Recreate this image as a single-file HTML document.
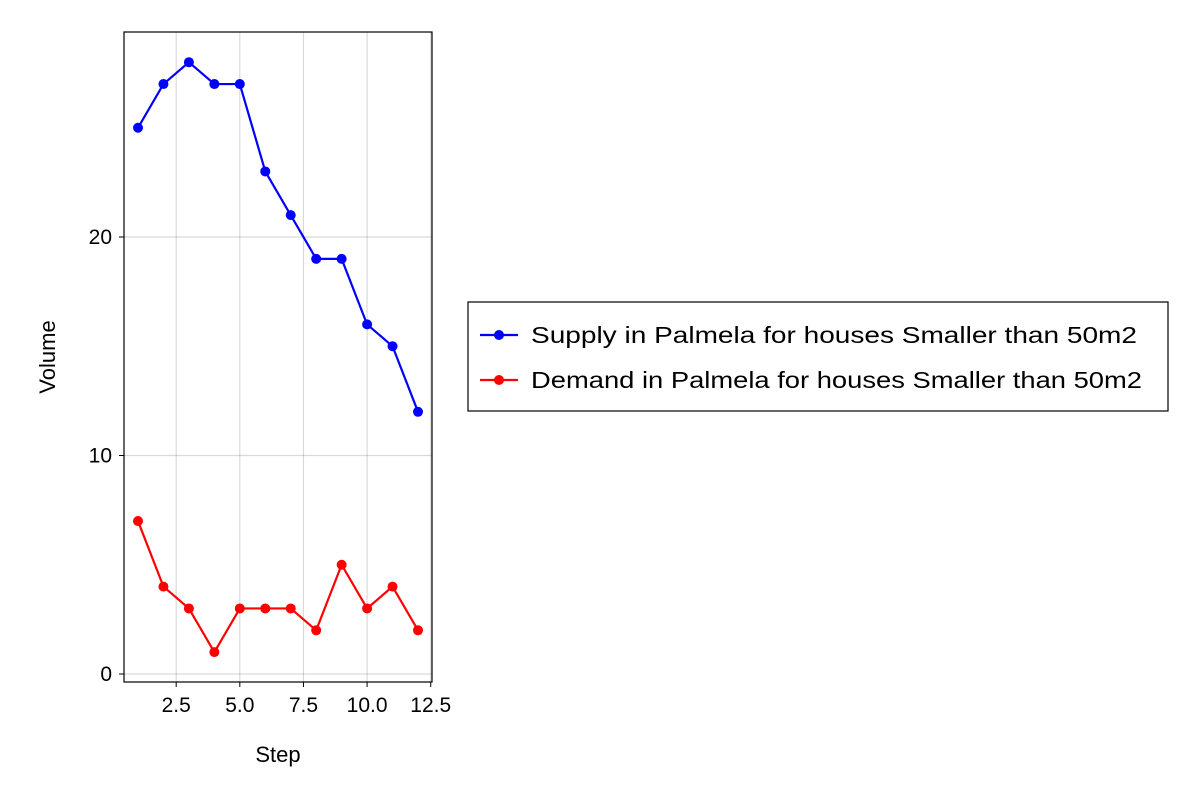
<!DOCTYPE html>
<html><head><meta charset="utf-8"><style>
body{margin:0;background:#fff;}
svg text{font-family:"Liberation Sans",sans-serif;fill:#000;}
</style></head><body>
<svg id="chart" width="1200" height="800" xmlns="http://www.w3.org/2000/svg"></svg>
<script>
const steps=[1,2,3,4,5,6,7,8,9,10,11,12];
const supply=[25,27,28,27,27,23,21,19,19,16,15,12];
const demand=[7,4,3,1,3,3,3,2,5,3,4,2];
const xTicks=[2.5,5.0,7.5,10.0,12.5];
const xTickLabels=["2.5","5.0","7.5","10.0","12.5"];
const yTicks=[0,10,20];
const yTickLabels=["0","10","20"];
const seriesNames=["Supply in Palmela for houses Smaller than 50m2","Demand in Palmela for houses Smaller than 50m2"];

const svg=document.getElementById('chart');
const NS='http://www.w3.org/2000/svg';
const L=124,R=432,T=32,B=682;
const xs=v=>138+(v-1)*(280/11);
const ys=v=>674-v*21.85;
function mk(tag,attrs,parent){const e=document.createElementNS(NS,tag);for(const k in attrs)e.setAttribute(k,attrs[k]);(parent||svg).appendChild(e);return e;}

const grid=mk('g',{});


xTicks.forEach((t,i)=>{
  const gl=mk('line',{x1:xs(t),x2:xs(t),y1:T,y2:B,stroke:'#000','stroke-opacity':0.15,'stroke-width':1.2},grid);
  
  
  const tk=mk('line',{x1:xs(t),x2:xs(t),y1:B,y2:B+5,stroke:'#000'});
  
  
  const tx=mk('text',{x:xs(t),y:B+30,'text-anchor':'middle','font-size':21});
  tx.textContent=xTickLabels[i];
  
  
});
yTicks.forEach((t,i)=>{
  const gl=mk('line',{x1:L,x2:R,y1:ys(t),y2:ys(t),stroke:'#000','stroke-opacity':0.15,'stroke-width':1.2},grid);
  
  
  const tk=mk('line',{x1:L-5,x2:L,y1:ys(t),y2:ys(t),stroke:'#000'});
  
  
  const tx=mk('text',{x:L-12,y:ys(t)+7,'text-anchor':'end','font-size':21});
  tx.textContent=yTickLabels[i];
  
  
});
const frame=mk('rect',{x:L,y:T,width:R-L,height:B-T,fill:'none',stroke:'#000','stroke-width':1.2});



function series(data,color,name){
  const g=mk('g',{});
  
  
  const p=mk('polyline',{points:data.map((v,i)=>xs(steps[i])+','+ys(v)).join(' '),fill:'none',stroke:color,'stroke-width':2.2},g);
  
  
  data.forEach((v,i)=>{
    const c=mk('circle',{cx:xs(steps[i]),cy:ys(v),r:5,fill:color},g);
    
    
  });
}
series(supply,'#0000ff','supply-series');
series(demand,'#ff0000','demand-series');

const xt=mk('text',{x:278,y:762,'text-anchor':'middle','font-size':22});
xt.textContent='Step';


const yt=mk('text',{x:0,y:0,'text-anchor':'middle','font-size':22,transform:'translate(55,357) rotate(-90)'});
yt.textContent='Volume';



const lg=mk('g',{});


const lb=mk('rect',{x:468,y:302,width:700,height:109,fill:'#fff',stroke:'#000','stroke-width':1.2},lg);


[['#0000ff',335,606],['#ff0000',380,611]].forEach((s,i)=>{
  const e=mk('g',{},lg);
  
  
  mk('line',{x1:480,x2:518,y1:s[1],y2:s[1],stroke:s[0],'stroke-width':2.2},e);
  mk('circle',{cx:499,cy:s[1],r:5,fill:s[0]},e);
  const t=mk('text',{x:531,y:s[1]+8,'font-size':23,textLength:s[2],lengthAdjust:'spacingAndGlyphs'},e);
  t.textContent=seriesNames[i];
});
</script>
</body></html>
